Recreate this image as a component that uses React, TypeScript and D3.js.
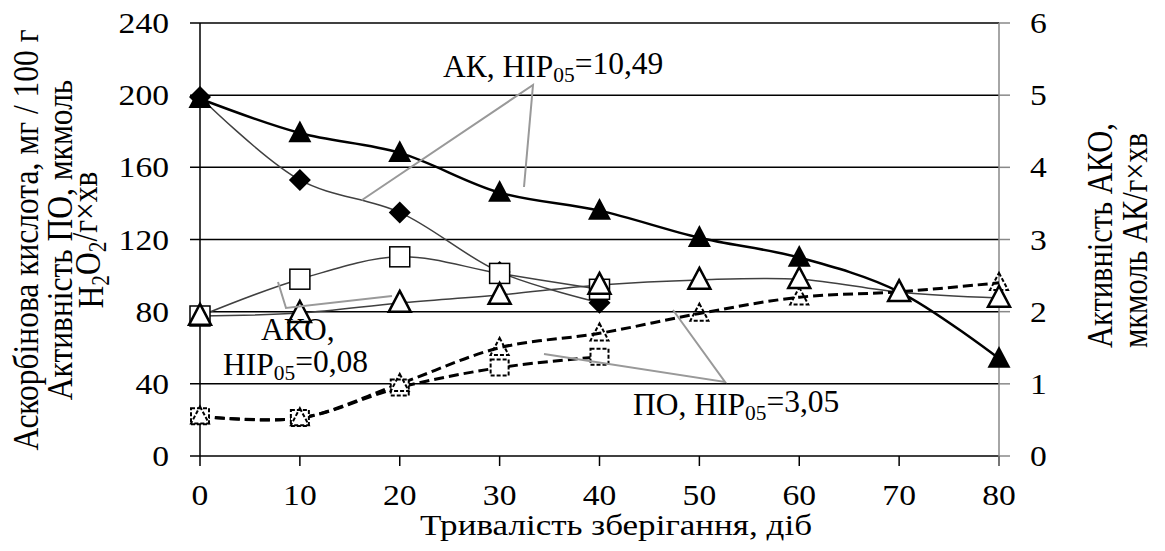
import React from 'react';
import * as d3 from 'd3';

// дні зберігання
const days = [0, 10, 20, 30, 40, 50, 60, 70, 80];
const daysShort = [0, 10, 20, 30, 40];

// аскорбінова кислота, мг / 100 г (ліва вісь)
const akTriangles = [198, 179, 168, 146, 136, 121, 110, 91, 54];
const akDiamonds = [199, 153, 135, 102, 85];

// активність АКО (права вісь)
const akoTriangles = [1.94, 1.98, 2.12, 2.23, 2.37, 2.44, 2.45, 2.27, 2.19];
const akoSquares = [1.94, 2.45, 2.76, 2.53, 2.31];

// активність ПО (ліва вісь)
const poTriangles = [22, 21, 40, 60, 68, 79, 88, 91, 96];
const poSquares = [22, 21, 38, 49, 55];

const leftTicks = [0, 40, 80, 120, 160, 200, 240];
const rightTicks = [0, 1, 2, 3, 4, 5, 6];
const xTicks = [0, 10, 20, 30, 40, 50, 60, 70, 80];

const W = 1165;
const H = 551;
const FONT = 'Liberation Serif, serif';

const x = d3.scaleLinear().domain([0, 80]).range([200, 999]);
const yL = d3.scaleLinear().domain([0, 240]).range([456, 23]);
const yR = d3.scaleLinear().domain([0, 6]).range([456, 23]);

const line = d3.line<[number, number]>().curve(d3.curveCatmullRom.alpha(0.5));

const pts = (xs: number[], ys: number[], sy: d3.ScaleLinear<number, number>) =>
  ys.map((v, i) => [x(xs[i]), sy(v)] as [number, number]);

const tri = (cx: number, cy: number, s: number) =>
  `M${cx},${cy - s * 0.55}L${cx + s / 2},${cy + s * 0.4}L${cx - s / 2},${cy + s * 0.4}Z`;
const diamond = (cx: number, cy: number, s: number) =>
  `M${cx},${cy - s / 2}L${cx + s / 2},${cy}L${cx},${cy + s / 2}L${cx - s / 2},${cy}Z`;

// текст, розтягнутий по горизонталі, як в оригіналі
const T = ({ x, y, anchor = 'start', size = 30, sx = 1.17, rot = false, children }:
  { x: number; y: number; anchor?: string; size?: number; sx?: number; rot?: boolean; children: React.ReactNode }) => (
  <g transform={`translate(${x},${y}) scale(${sx},1)${rot ? ' rotate(-90)' : ''}`}>
    <text textAnchor={anchor} fontSize={size}>{children}</text>
  </g>
);

const Sub = ({ main, sub, rest }: { main: string; sub: string; rest: string }) => (
  <>
    {main}
    <tspan fontSize="0.68em" dy="0.25em">{sub}</tspan>
    <tspan dy="-0.25em">{rest}</tspan>
  </>
);

export default function App() {
  const akT = pts(days, akTriangles, yL);
  const akD = pts(daysShort, akDiamonds, yL);
  const akoT = pts(days, akoTriangles, yR);
  const akoS = pts(daysShort, akoSquares, yR);
  const poT = pts(days, poTriangles, yL);
  const poS = pts(daysShort, poSquares, yL);

  return (
    <div style={{ position: 'absolute', left: 0, top: 0 }}>
      <svg width={W} height={H} style={{ display: 'block', background: '#fff', fontFamily: FONT }}>
        {/* сітка */}
        {leftTicks.map(t => (
          <line key={t} x1={190} x2={999} y1={yL(t)} y2={yL(t)} stroke="#000" strokeWidth={1.5} />
        ))}
        {rightTicks.map(t => (
          <line key={'r' + t} x1={999} x2={1010} y1={yR(t)} y2={yR(t)} stroke="#888" strokeWidth={1.5} />
        ))}
        {xTicks.map(t => (
          <line key={'x' + t} x1={x(t)} x2={x(t)} y1={456} y2={466} stroke="#000" strokeWidth={1.5} />
        ))}
        <line x1={200} x2={200} y1={23} y2={456} stroke="#000" strokeWidth={1.5} />
        <line x1={999} x2={999} y1={23} y2={466} stroke="#888" strokeWidth={1.5} />

        {/* підписи осей */}
        {leftTicks.map(t => (
          <T key={'lt' + t} x={169} y={yL(t) + 10} anchor="end" sx={1.12}>{t}</T>
        ))}
        {rightTicks.map(t => (
          <T key={'rt' + t} x={1030} y={yR(t) + 10} sx={1.12}>{t}</T>
        ))}
        {xTicks.map(t => (
          <T key={'xt' + t} x={x(t)} y={505} anchor="middle" sx={1.12}>{t}</T>
        ))}
        <T x={616} y={535} anchor="middle">Тривалість зберігання, діб</T>

        <T x={38} y={240} anchor="middle" size={31.5} rot>Аскорбінова кислота, мг / 100 г</T>
        <T x={72} y={240} anchor="middle" size={31.5} rot>Активність ПО, мкмоль</T>
        <T x={103} y={240} anchor="middle" size={31.5} rot>
          <Sub main="H" sub="2" rest="O" />
          <tspan fontSize="0.68em" dy="0.25em">2</tspan>
          <tspan dy="-0.25em">/г×хв</tspan>
        </T>
        <T x={1112} y={348} anchor="start" size={30.5} rot>Активність АКО,</T>
        <T x={1147} y={348} anchor="start" size={30.5} rot>мкмоль АК/г×хв</T>

        {/* лінії */}
        <path d={line(akD) || ''} fill="none" stroke="#404040" strokeWidth={1.5} />
        <path d={line(akoS) || ''} fill="none" stroke="#404040" strokeWidth={1.5} />
        <path d={line(akoT) || ''} fill="none" stroke="#404040" strokeWidth={1.5} />
        <path d={line(akT) || ''} fill="none" stroke="#000" strokeWidth={2.5} />
        <path d={line(poS) || ''} fill="none" stroke="#000" strokeWidth={3} strokeDasharray="10,5" />
        <path d={line(poT) || ''} fill="none" stroke="#000" strokeWidth={3} strokeDasharray="10,5" />

        {/* маркери */}
        {poS.map(([cx, cy], i) => (
          <rect key={'ps' + i} x={cx - 9} y={cy - 8} width={18} height={16} fill="#fff" stroke="#000" strokeWidth={2} strokeDasharray="4,2" />
        ))}
        {poT.map(([cx, cy], i) => (
          <path key={'pt' + i} d={tri(cx, cy, 18)} fill="none" stroke="#000" strokeWidth={2} strokeDasharray="4,2" />
        ))}
        {akD.map(([cx, cy], i) => (
          <path key={'ad' + i} d={diamond(cx, cy, 22)} fill="#000" />
        ))}
        {akT.map(([cx, cy], i) => (
          <path key={'akt' + i} d={tri(cx, cy, 23)} fill="#000" />
        ))}
        {akoS.map(([cx, cy], i) => (
          <rect key={'as' + i} x={cx - 10} y={cy - 10} width={20} height={20} fill="#fff" stroke="#000" strokeWidth={1.5} />
        ))}
        {akoT.map(([cx, cy], i) => (
          <path key={'at' + i} d={tri(cx, cy, 22)} fill="#fff" stroke="#000" strokeWidth={2.5} />
        ))}

        {/* анотації */}
        <g stroke="#999" strokeWidth={2} fill="none">
          <polyline points="362,200 533,85 524,187" />
          <polyline points="278,282 286,308 392,296" />
          <polyline points="673,310 725,382 544,354" />
        </g>
        <T x={443} y={77} size={31.5} sx={1}><Sub main="АК, НІР" sub="05" rest="=10,49" /></T>
        <T x={261} y={340} size={31.5} sx={1}>АКО,</T>
        <T x={223} y={375} size={31.5} sx={1}><Sub main="НІР" sub="05" rest="=0,08" /></T>
        <T x={633} y={415} size={31.5} sx={1}><Sub main="ПО, НІР" sub="05" rest="=3,05" /></T>
      </svg>
    </div>
  );
}
